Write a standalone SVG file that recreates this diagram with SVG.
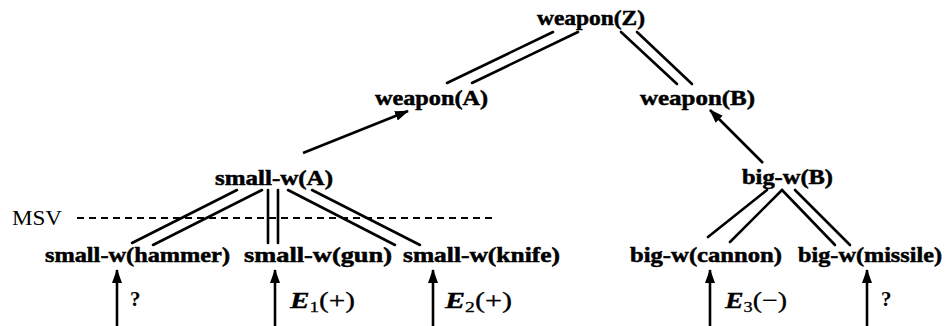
<svg xmlns="http://www.w3.org/2000/svg" width="947" height="326" viewBox="0 0 947 326">
<defs>
<marker id="ah" markerWidth="14" markerHeight="10" refX="13" refY="5" orient="auto" markerUnits="userSpaceOnUse">
<path d="M0,0 L14,5 L0,10 Z" fill="#000"/>
</marker>
<style>
.n{font-family:"Liberation Serif",serif;font-weight:bold;font-size:21px;fill:#000;stroke:#000;stroke-width:0.5}
.l{font-family:"Liberation Serif",serif;font-size:21px;fill:#000}
.e{font-family:"Liberation Serif",serif;font-size:23px;fill:#000;stroke:#000;stroke-width:0.3}
.dl{stroke:#000;stroke-width:2.6;fill:none;stroke-linecap:round}
.ar{stroke:#000;stroke-width:2.6;fill:none;marker-end:url(#ah)}
.ds{stroke:#000;stroke-width:2;stroke-dasharray:7,5;fill:none}
</style>
</defs>
<rect width="947" height="326" fill="#fff"/>
<g id="connectors">
<line class="dl" x1="553" y1="32" x2="447" y2="83"/>
<line class="dl" x1="578" y1="32" x2="472" y2="83"/>
<line class="dl" x1="621" y1="32" x2="677" y2="84"/>
<line class="dl" x1="637" y1="32" x2="692" y2="84"/>
<line class="ar" x1="303" y1="153" x2="408" y2="111"/>
<line class="ar" x1="763" y1="163" x2="710" y2="110"/>
<line class="dl" x1="237" y1="190" x2="132" y2="243"/>
<line class="dl" x1="262" y1="190" x2="153" y2="245"/>
<line class="dl" x1="268" y1="190" x2="268" y2="243"/>
<line class="dl" x1="278" y1="190" x2="278" y2="243"/>
<line class="dl" x1="288" y1="190" x2="395" y2="245"/>
<line class="dl" x1="312" y1="190" x2="420" y2="245"/>
<line class="dl" x1="767" y1="190" x2="708" y2="237"/>
<line class="dl" x1="782" y1="190" x2="730" y2="242"/>
<line class="dl" x1="782" y1="190" x2="835" y2="245"/>
<line class="dl" x1="795" y1="190" x2="850" y2="245"/>
<line class="ar" x1="117" y1="326" x2="117" y2="270"/>
<line class="ar" x1="275" y1="326" x2="275" y2="270"/>
<line class="ar" x1="433" y1="326" x2="433" y2="270"/>
<line class="ar" x1="710" y1="326" x2="710" y2="270"/>
<line class="ar" x1="867" y1="326" x2="867" y2="270"/>
<line class="ds" x1="77" y1="218" x2="495" y2="218"/>
</g>
<g id="weaponZ"><text class="n" x="537" y="25" textLength="108" lengthAdjust="spacingAndGlyphs">weapon(Z)</text></g>
<g id="weaponA"><text class="n" x="375" y="105" textLength="113" lengthAdjust="spacingAndGlyphs">weapon(A)</text></g>
<g id="weaponB"><text class="n" x="640" y="105" textLength="115" lengthAdjust="spacingAndGlyphs">weapon(B)</text></g>
<g id="smallwA"><text class="n" x="215" y="185" textLength="118" lengthAdjust="spacingAndGlyphs">small-w(A)</text></g>
<g id="bigwB"><text class="n" x="742" y="184" textLength="91" lengthAdjust="spacingAndGlyphs">big-w(B)</text></g>
<g id="msv"><text class="l" x="12" y="225" textLength="50" lengthAdjust="spacingAndGlyphs">MSV</text></g>
<g id="hammer"><text class="n" x="45" y="262" textLength="185" lengthAdjust="spacingAndGlyphs">small-w(hammer)</text></g>
<g id="gun"><text class="n" x="244" y="262" textLength="148" lengthAdjust="spacingAndGlyphs">small-w(gun)</text></g>
<g id="knife"><text class="n" x="403" y="262" textLength="157" lengthAdjust="spacingAndGlyphs">small-w(knife)</text></g>
<g id="cannon"><text class="n" x="630" y="262" textLength="152" lengthAdjust="spacingAndGlyphs">big-w(cannon)</text></g>
<g id="missile"><text class="n" x="798" y="262" textLength="144" lengthAdjust="spacingAndGlyphs">big-w(missile)</text></g>
<g id="labels">
<text class="l" x="130" y="306" font-size="18" font-weight="bold">?</text>
<text class="e" x="290" y="308" textLength="65" lengthAdjust="spacingAndGlyphs"><tspan font-style="italic" font-weight="bold">E</tspan><tspan font-size="15" dy="4">1</tspan><tspan dy="-4">(+)</tspan></text>
<text class="e" x="445" y="308" textLength="67" lengthAdjust="spacingAndGlyphs"><tspan font-style="italic" font-weight="bold">E</tspan><tspan font-size="15" dy="4">2</tspan><tspan dy="-4">(+)</tspan></text>
<text class="e" x="725" y="308" textLength="62" lengthAdjust="spacingAndGlyphs"><tspan font-style="italic" font-weight="bold">E</tspan><tspan font-size="15" dy="4">3</tspan><tspan dy="-4">(−)</tspan></text>
<text class="l" x="881" y="306" font-size="18" font-weight="bold">?</text>
</g>
</svg>
